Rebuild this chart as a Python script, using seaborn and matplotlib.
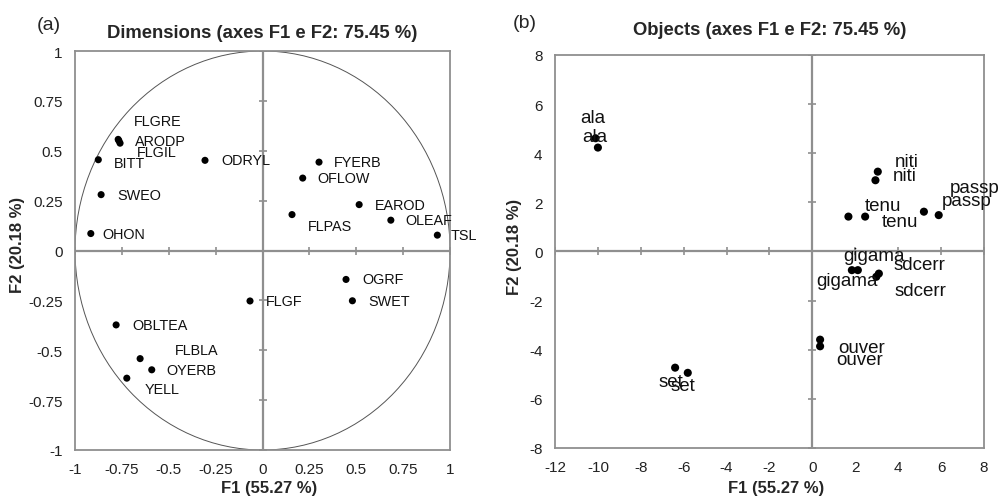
import pandas as pd
import seaborn as sns
import matplotlib.pyplot as plt
from matplotlib.patches import Circle

# (a) variables on the F1/F2 correlation circle
dim_names = ["FLGRE", "ARODP", "FLGIL", "BITT", "ODRYL", "FYERB", "OFLOW",
             "SWEO", "EAROD", "FLPAS", "OLEAF", "TSL", "OHON", "OGRF",
             "SWET", "FLGF", "OBLTEA", "FLBLA", "OYERB", "YELL"]
dim_f1 = [-0.770, -0.766, -0.760, -0.876, -0.307, 0.301, 0.214,
          -0.861, 0.515, 0.157, 0.684, 0.932, -0.916, 0.445,
          0.479, -0.067, -0.781, -0.653, -0.591, -0.724]
dim_f2 = [0.557, 0.550, 0.538, 0.455, 0.452, 0.443, 0.363,
          0.280, 0.230, 0.180, 0.152, 0.077, 0.085, -0.145,
          -0.252, -0.253, -0.373, -0.542, -0.598, -0.640]

# (b) objects
obj_names = ["ala", "ala", "niti", "niti", "tenu", "tenu", "passp", "passp",
             "gigama", "gigama", "sdcerr", "sdcerr", "ouver", "ouver", "set", "set"]
obj_f1 = [-10.11, -10.00, 3.05, 2.94, 1.68, 2.46, 5.20, 5.89,
          1.84, 2.12, 3.10, 2.98, 0.36, 0.36, -6.40, -5.81]
obj_f2 = [4.61, 4.23, 3.25, 2.90, 1.42, 1.42, 1.62, 1.48,
          -0.76, -0.76, -0.90, -1.03, -3.59, -3.86, -4.73, -4.94]

dim_ticks = [-1, -0.75, -0.5, -0.25, 0, 0.25, 0.5, 0.75, 1]
obj_xticks = [-12, -10, -8, -6, -4, -2, 0, 2, 4, 6, 8]
obj_yticks = [-8, -6, -4, -2, 0, 2, 4, 6, 8]

title_a = "Dimensions (axes F1 e F2: 75.45 %)"
title_b = "Objects (axes F1 e F2: 75.45 %)"
xlab = "F1 (55.27 %)"
ylab = "F2 (20.18 %)"

# label nudges in pixels (dx, dy, ha) - hand placed like the original
dim_offsets = [(16, 18, "left"), (16, 0, "left"), (17, -9, "left"), (16, -3, "left"),
               (16, 0, "left"), (15, 0, "left"), (15, 0, "left"), (16, 0, "left"),
               (16, 0, "left"), (16, -11, "left"), (15, 0, "left"), (13, 0, "left"),
               (12, 0, "left"), (16, 0, "left"), (16, 0, "left"), (16, 0, "left"),
               (16, 0, "left"), (35, 9, "left"), (15, 0, "left"), (18, -11, "left")]
obj_offsets = [(-3, 21, "center"), (-3, 11, "center"), (17, 10, "left"), (17, 5, "left"),
               (16, 11, "left"), (17, -5, "left"), (26, 24, "left"), (3, 15, "left"),
               (-9, 15, "left"), (-42, -10, "left"), (15, 9, "left"), (18, -14, "left"),
               (18, -8, "left"), (16, -13, "left"), (-17, -14, "left"), (-17, -13, "left")]

sns.set_theme(style="white")
plt.rcParams['font.family'] = ['Liberation Sans', 'DejaVu Sans']

GRAY = "#8f8f8f"

fig = plt.figure(figsize=(10.02, 5.02), dpi=100)
ax_a = fig.add_axes([0.0749, 0.1016, 0.3743, 0.7948])
ax_b = fig.add_axes([0.5539, 0.1056, 0.4281, 0.7829])


def style_axes(ax, xticks, yticks, title, title_pad):
    ax.set_xlim(xticks[0], xticks[-1])
    ax.set_ylim(yticks[0], yticks[-1])
    ax.set_xticks(xticks)
    ax.set_yticks(yticks)
    ax.set_xticklabels([f"{v:g}" for v in xticks])
    ax.set_yticklabels([f"{v:g}" for v in yticks])
    ax.tick_params(axis="both", length=0, labelsize=11, colors="#222222")
    ax.tick_params(axis="x", pad=9)
    ax.tick_params(axis="y", pad=9)
    for sp in ax.spines.values():
        sp.set_visible(True)
        sp.set_color(GRAY)
        sp.set_linewidth(1.3)
    # axes through the origin, with cross ticks like the original
    ax.axhline(0, color=GRAY, lw=1.6, zorder=1)
    ax.axvline(0, color=GRAY, lw=1.6, zorder=1)
    ax.plot(xticks, [0] * len(xticks), ls="none", marker="|", ms=6, mew=1.2, color=GRAY, zorder=1)
    ax.plot([0] * len(yticks), yticks, ls="none", marker="_", ms=6, mew=1.2, color=GRAY, zorder=1)
    ax.set_title(title, fontsize=13.3, fontweight="bold", pad=title_pad)
    ax.set_xlabel(xlab, fontsize=12, fontweight="bold")
    ax.set_ylabel(ylab, fontsize=12, fontweight="bold")


def plot_points(ax, names, xs, ys, offsets, size, fontsize):
    df = pd.DataFrame({"F1": xs, "F2": ys, "name": names})
    sns.scatterplot(data=df, x="F1", y="F2", color="black", s=size,
                    edgecolor="none", ax=ax, zorder=3, legend=False)
    for (_, row), (dx, dy, ha) in zip(df.iterrows(), offsets):
        ax.annotate(row["name"], (row["F1"], row["F2"]), xytext=(dx, dy),
                    textcoords="offset pixels", ha=ha, va="center",
                    fontsize=fontsize, color="#111111", zorder=4,
                    annotation_clip=False)


# (a)
style_axes(ax_a, dim_ticks, dim_ticks, title_a, 10)
ax_a.add_patch(Circle((0, 0), 1, fill=False, ec="#555555", lw=0.7, zorder=2))
plot_points(ax_a, dim_names, dim_f1, dim_f2, dim_offsets, 26, 10.4)
ax_a.xaxis.set_label_coords(0.517, -0.075)
ax_a.yaxis.set_label_coords(-0.133, 0.516)

# (b)
style_axes(ax_b, obj_xticks, obj_yticks, title_b, 15)
plot_points(ax_b, obj_names, obj_f1, obj_f2, obj_offsets, 34, 13.5)
ax_b.xaxis.set_label_coords(0.515, -0.081)
ax_b.yaxis.set_label_coords(-0.077, 0.514)

fig.text(37 / 1002, 1 - 26 / 502, "(a)", fontsize=14, ha="left", va="center")
fig.text(513 / 1002, 1 - 23 / 502, "(b)", fontsize=14, ha="left", va="center")

fig.savefig("out.png", dpi=100)
